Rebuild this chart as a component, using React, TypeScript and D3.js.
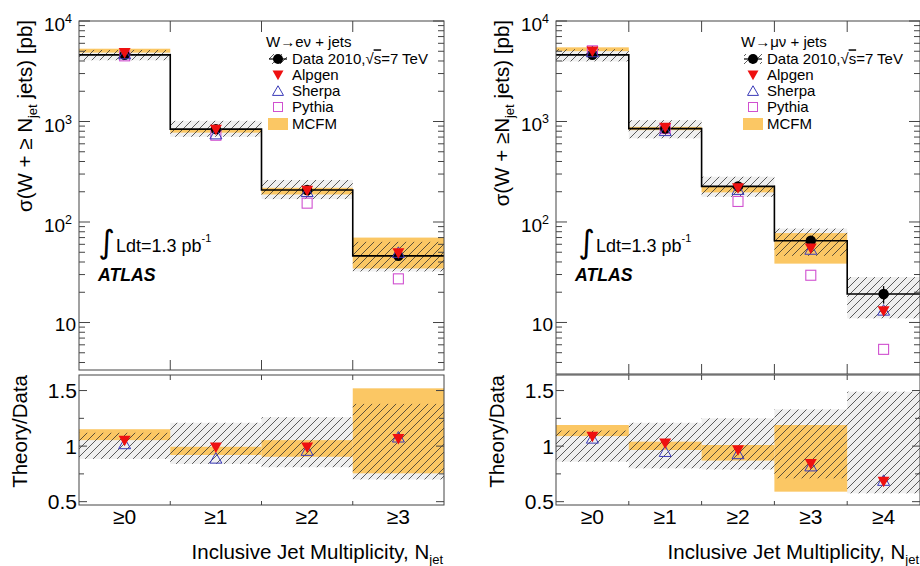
import React from "react";
import * as d3 from "d3";

// ---------------- DATA ----------------
const E_BINS = ["≥0", "≥1", "≥2", "≥3"];
const M_BINS = ["≥0", "≥1", "≥2", "≥3", "≥4"];

// Electron channel, cross sections [pb]
const E_DATA = [4600, 840, 208, 46];
const E_STAT = [40, 14, 6, 4];
const E_SYS_LO = [4070, 705, 169, 32.2];
const E_SYS_HI = [5150, 1016, 262, 63.5];
const E_MCFM_LO = [4850, 775, 188, 34.5];
const E_MCFM_HI = [5300, 835, 219, 70];
const E_ALPGEN = [4830, 832, 206, 49];
const E_SHERPA = [4700, 750, 200, 49.7];
const E_PYTHIA = [4500, 730, 154, 27.2];
// Electron channel, Theory/Data
const E_R_SYS_LO = [0.885, 0.84, 0.81, 0.7];
const E_R_SYS_HI = [1.12, 1.21, 1.26, 1.38];
const E_R_MCFM_LO = [1.054, 0.92, 0.904, 0.755];
const E_R_MCFM_HI = [1.152, 0.994, 1.054, 1.52];
const E_R_ALPGEN = [1.05, 0.99, 0.99, 1.065];
const E_R_SHERPA = [1.02, 0.89, 0.96, 1.08];

// Muon channel, cross sections [pb]
const M_DATA = [4600, 850, 226, 65, 19.2];
const M_STAT = [40, 14, 6, 4, 3.8];
const M_SYS_LO = [3960, 680, 178, 46, 11];
const M_SYS_HI = [5240, 1030, 282, 86, 28.3];
const M_MCFM_LO = [5010, 820, 197, 38.5];
const M_MCFM_HI = [5470, 884, 228, 77.5];
const M_ALPGEN = [4990, 871, 218, 54.6, 13];
const M_SHERPA = [4920, 808, 210, 53.3, 13.2];
const M_PYTHIA = [5050, 850, 160, 29.5, 5.4];
// Muon channel, Theory/Data
const M_R_SYS_LO = [0.86, 0.8, 0.79, 0.71, 0.575];
const M_R_SYS_HI = [1.14, 1.21, 1.25, 1.33, 1.49];
const M_R_MCFM_LO = [1.09, 0.965, 0.87, 0.59];
const M_R_MCFM_HI = [1.19, 1.04, 1.01, 1.19];
const M_R_ALPGEN = [1.085, 1.025, 0.965, 0.84, 0.68];
const M_R_SHERPA = [1.07, 0.95, 0.93, 0.82, 0.69];

const LOG_MAJOR = [10, 100, 1000, 10000];
const RATIO_MAJOR = [0.5, 1, 1.5];
const RATIO_MINOR = [0.75, 1.25];
const RATIO_DOMAIN = [0.47, 1.64];
const Y_MIN_E = 3.37;
const Y_MIN_M = 3.07;
const Y_MAX = 10000;

const LEGEND_ENTRIES = ["Data 2010,", "Alpgen", "Sherpa", "Pythia", "MCFM"];

// ---------------- STYLE ----------------
const FONT = "'Liberation Sans', Arial, Helvetica, sans-serif";
const ORANGE = "#fbc764";
const RED = "#ee1010";
const BLUE = "#3a3ab8";
const MAGENTA = "#d050d0";
const FRAME = "#444";
const HATCH_BG = "#efefef";

type PanelProps = {
  id: string;
  bins: string[];
  x0: number;
  x1: number;
  topBottom: number;
  ymin: number;
  data: number[];
  stat: number[];
  sysLo: number[];
  sysHi: number[];
  mcfmLo: number[];
  mcfmHi: number[];
  alpgen: number[];
  sherpa: number[];
  pythia: number[];
  rSysLo: number[];
  rSysHi: number[];
  rMcfmLo: number[];
  rMcfmHi: number[];
  rAlpgen: number[];
  rSherpa: number[];
  legendTitle: string;
  legX: number;
  yTitle: string;
  yTitleX: number;
  rTitleX: number;
  lumiX: number;
  atlasX: number;
};

const triDown = (cx: number, cy: number, s: number) =>
  `M${cx - s},${cy - s * 0.8}L${cx + s},${cy - s * 0.8}L${cx},${cy + s * 0.95}Z`;
const triUp = (cx: number, cy: number, s: number) =>
  `M${cx - s},${cy + s * 0.8}L${cx + s},${cy + s * 0.8}L${cx},${cy - s * 0.95}Z`;

function Panel(p: PanelProps) {
  const top = 21;
  const rTop = 375;
  const rBot = 505;
  const x = d3.scaleBand<string>().domain(p.bins).range([p.x0, p.x1]).paddingInner(0).paddingOuter(0);
  const y = d3.scaleLog().domain([p.ymin, Y_MAX]).range([p.topBottom, top]);
  const r = d3.scaleLinear().domain(RATIO_DOMAIN).range([rBot, rTop]);
  const bw = x.bandwidth();
  const edges = p.bins.map((b) => x(b) as number).concat([p.x1]);
  const innerEdges = edges.slice(1, -1);
  const minorLog = y.ticks().filter((t) => LOG_MAJOR.indexOf(t) < 0 && t >= p.ymin && t <= Y_MAX);
  const hatch = `url(#hatch-${p.id})`;
  const cx = (i: number) => (x(p.bins[i]) as number) + bw / 2;

  // step line
  const stepPts: [number, number][] = [];
  p.data.forEach((d, i) => {
    stepPts.push([x(p.bins[i]) as number, y(d)]);
    stepPts.push([(x(p.bins[i]) as number) + bw, y(d)]);
  });
  const stepPath = d3.line()(stepPts) as string;

  const legY = [59, 75, 91, 107, 124];

  return (
    <g fontFamily={FONT}>
      <defs>
        <pattern id={`hatch-${p.id}`} patternUnits="userSpaceOnUse" width={8} height={8}>
          <path d="M-2,2L2,-2M0,8L8,0M6,10L10,6" stroke="#2a2a2a" strokeWidth={0.75} />
        </pattern>
        <clipPath id={`clip-${p.id}`}>
          <rect x={p.x0} y={top} width={p.x1 - p.x0} height={p.topBottom - top} />
        </clipPath>
      </defs>

      {/* ---------- TOP PANEL ---------- */}
      <g clipPath={`url(#clip-${p.id})`}>
        {p.data.map((d, i) => (
          <rect key={`sb${i}`} x={x(p.bins[i])} width={bw} y={y(p.sysHi[i])} height={y(p.sysLo[i]) - y(p.sysHi[i])} fill={HATCH_BG} />
        ))}
        {p.mcfmLo.map((d, i) => (
          <rect key={`mc${i}`} x={x(p.bins[i])} width={bw} y={y(p.mcfmHi[i])} height={y(p.mcfmLo[i]) - y(p.mcfmHi[i])} fill={ORANGE} />
        ))}
        {p.data.map((d, i) => (
          <rect key={`sh${i}`} x={x(p.bins[i])} width={bw} y={y(p.sysHi[i])} height={y(p.sysLo[i]) - y(p.sysHi[i])} fill={hatch} />
        ))}
        <path d={stepPath} fill="none" stroke="#000" strokeWidth={1.6} />
        {p.pythia.map((d, i) => (
          <rect key={`py${i}`} x={cx(i) - 5} y={y(d) - 5} width={10} height={10} fill="none" stroke={MAGENTA} strokeWidth={1.1} />
        ))}
        {p.data.map((d, i) => (
          <g key={`da${i}`}>
            <line x1={cx(i)} x2={cx(i)} y1={y(d + p.stat[i])} y2={y(d - p.stat[i])} stroke="#000" strokeWidth={1.3} />
            <circle cx={cx(i)} cy={y(d)} r={5.2} fill="#000" />
          </g>
        ))}
        {p.sherpa.map((d, i) => (
          <path key={`se${i}`} d={triUp(cx(i), y(d), 6)} fill="none" stroke={BLUE} strokeWidth={1} />
        ))}
        {p.alpgen.map((d, i) => (
          <path key={`al${i}`} d={triDown(cx(i), y(d), 6)} fill={RED} />
        ))}
      </g>

      {/* frame */}
      <rect x={p.x0} y={top} width={p.x1 - p.x0} height={p.topBottom - top} fill="none" stroke={FRAME} strokeWidth={1} />
      {LOG_MAJOR.map((t) => (
        <g key={`lm${t}`}>
          <line x1={p.x0} x2={p.x0 + 11} y1={y(t)} y2={y(t)} stroke={FRAME} />
          <line x1={p.x1} x2={p.x1 - 11} y1={y(t)} y2={y(t)} stroke={FRAME} />
        </g>
      ))}
      {minorLog.map((t, i) => (
        <g key={`ln${i}`}>
          <line x1={p.x0} x2={p.x0 + 6} y1={y(t)} y2={y(t)} stroke={FRAME} />
          <line x1={p.x1} x2={p.x1 - 6} y1={y(t)} y2={y(t)} stroke={FRAME} />
        </g>
      ))}
      {innerEdges.map((e, i) => (
        <g key={`te${i}`}>
          <line x1={e} x2={e} y1={top} y2={top + 11} stroke={FRAME} />
          <line x1={e} x2={e} y1={p.topBottom} y2={p.topBottom - 10} stroke={FRAME} />
        </g>
      ))}
      {LOG_MAJOR.map((t) => {
        const exp = Math.round(Math.log10(t));
        return exp === 1 ? (
          <text key={`tl${t}`} x={p.x0 - 3} y={y(t) + 8.5} fontSize={19} textAnchor="end">10</text>
        ) : (
          <text key={`tl${t}`} x={p.x0 - 7} y={y(t) + 10} fontSize={19} textAnchor="end">
            10<tspan fontSize={12.5} dy={-8}>{exp}</tspan>
          </text>
        );
      })}

      {/* y title */}
      <text transform={`translate(${p.yTitleX},20) rotate(-90)`} fontSize={20.5} textAnchor="end">
        {p.yTitle}
        <tspan fontSize={13} dy={5}>jet</tspan>
        <tspan dy={-5}> jets) [pb]</tspan>
      </text>

      {/* legend */}
      <g fontSize={15}>
        <text x={p.legX - 12} y={47}>{p.legendTitle}</text>
        <rect x={p.legX - 9} y={legY[0] - 5} width={18} height={10} fill={hatch} />
        <line x1={p.legX - 9} x2={p.legX + 9} y1={legY[0]} y2={legY[0]} stroke="#000" strokeWidth={1.2} />
        <circle cx={p.legX} cy={legY[0]} r={5} fill="#000" />
        <path d={triDown(p.legX, legY[1], 5.5)} fill={RED} />
        <path d={triUp(p.legX, legY[2], 5.5)} fill="none" stroke={BLUE} strokeWidth={1} />
        <rect x={p.legX - 4.5} y={legY[3] - 4.5} width={9} height={9} fill="none" stroke={MAGENTA} strokeWidth={1} />
        <rect x={p.legX - 10} y={legY[4] - 6} width={20} height={12} fill={ORANGE} />
        <text x={p.legX + 14} y={legY[0] + 5.3}>
          {LEGEND_ENTRIES[0]}√<tspan textDecoration="overline">s</tspan>=7 TeV
        </text>
        {LEGEND_ENTRIES.slice(1).map((t, i) => (
          <text key={`le${i}`} x={p.legX + 14} y={legY[i + 1] + 5.3}>{t}</text>
        ))}
      </g>

      {/* lumi + ATLAS */}
      <text x={p.lumiX - 1} y={253} fontSize={32} fontFamily="'DejaVu Sans'" textAnchor="end">∫</text>
      <text x={p.lumiX} y={252} fontSize={18}>
        Ldt=1.3 pb<tspan fontSize={11} dy={-10}>-1</tspan>
      </text>
      <text x={p.atlasX} y={281} fontSize={17.7} fontWeight="bold" fontStyle="italic">ATLAS</text>

      {/* ---------- RATIO PANEL ---------- */}
      {p.rSysLo.map((d, i) => (
        <rect key={`rsb${i}`} x={x(p.bins[i])} width={bw} y={r(p.rSysHi[i])} height={r(p.rSysLo[i]) - r(p.rSysHi[i])} fill={HATCH_BG} />
      ))}
      {p.rMcfmLo.map((d, i) => (
        <rect key={`rmc${i}`} x={x(p.bins[i])} width={bw} y={r(p.rMcfmHi[i])} height={r(p.rMcfmLo[i]) - r(p.rMcfmHi[i])} fill={ORANGE} />
      ))}
      {p.rSysLo.map((d, i) => (
        <rect key={`rsh${i}`} x={x(p.bins[i])} width={bw} y={r(p.rSysHi[i])} height={r(p.rSysLo[i]) - r(p.rSysHi[i])} fill={hatch} />
      ))}
      {p.rSherpa.map((d, i) => (
        <path key={`rse${i}`} d={triUp(cx(i), r(d), 6)} fill="none" stroke={BLUE} strokeWidth={1} />
      ))}
      {p.rAlpgen.map((d, i) => (
        <path key={`ral${i}`} d={triDown(cx(i), r(d), 6)} fill={RED} />
      ))}
      <rect x={p.x0} y={rTop} width={p.x1 - p.x0} height={rBot - rTop} fill="none" stroke={FRAME} strokeWidth={1} />
      {RATIO_MAJOR.map((t) => (
        <g key={`rm${t}`}>
          <line x1={p.x0} x2={p.x0 + 8} y1={r(t)} y2={r(t)} stroke={FRAME} />
          <line x1={p.x1} x2={p.x1 - 8} y1={r(t)} y2={r(t)} stroke={FRAME} />
          <text x={p.x0 - 2} y={r(t) + 7.5} fontSize={21} textAnchor="end">{String(t)}</text>
        </g>
      ))}
      {RATIO_MINOR.map((t) => (
        <g key={`rn${t}`}>
          <line x1={p.x0} x2={p.x0 + 5} y1={r(t)} y2={r(t)} stroke={FRAME} />
          <line x1={p.x1} x2={p.x1 - 5} y1={r(t)} y2={r(t)} stroke={FRAME} />
        </g>
      ))}
      {innerEdges.map((e, i) => (
        <g key={`re${i}`}>
          <line x1={e} x2={e} y1={rTop} y2={rTop + 5} stroke={FRAME} />
          <line x1={e} x2={e} y1={rBot} y2={rBot - 4} stroke={FRAME} />
        </g>
      ))}
      {p.bins.map((b, i) => (
        <text key={`xl${i}`} x={cx(i)} y={524} fontSize={21} textAnchor="middle">{b}</text>
      ))}
      <text transform={`translate(${p.rTitleX},375) rotate(-90)`} fontSize={20.5} textAnchor="end">Theory/Data</text>
      <text x={p.x1 - 1} y={559} fontSize={20.5} textAnchor="end">
        Inclusive Jet Multiplicity, N<tspan fontSize={13} dy={5}>jet</tspan>
      </text>
    </g>
  );
}

export default function App() {
  return (
    <svg width={920} height={566} style={{ position: "absolute", left: 0, top: 0, background: "#fff" }}>
      <rect width={920} height={566} fill="#fff" />
      <Panel
        id="e" bins={E_BINS} x0={79} x1={444} topBottom={370} ymin={Y_MIN_E}
        data={E_DATA} stat={E_STAT} sysLo={E_SYS_LO} sysHi={E_SYS_HI}
        mcfmLo={E_MCFM_LO} mcfmHi={E_MCFM_HI} alpgen={E_ALPGEN} sherpa={E_SHERPA} pythia={E_PYTHIA}
        rSysLo={E_R_SYS_LO} rSysHi={E_R_SYS_HI} rMcfmLo={E_R_MCFM_LO} rMcfmHi={E_R_MCFM_HI}
        rAlpgen={E_R_ALPGEN} rSherpa={E_R_SHERPA}
        legendTitle="W→eν + jets" legX={278} yTitle="σ(W + ≥ N" yTitleX={32} rTitleX={27}
        lumiX={116} atlasX={98}
      />
      <Panel
        id="m" bins={M_BINS} x0={556} x1={920} topBottom={374} ymin={Y_MIN_M}
        data={M_DATA} stat={M_STAT} sysLo={M_SYS_LO} sysHi={M_SYS_HI}
        mcfmLo={M_MCFM_LO} mcfmHi={M_MCFM_HI} alpgen={M_ALPGEN} sherpa={M_SHERPA} pythia={M_PYTHIA}
        rSysLo={M_R_SYS_LO} rSysHi={M_R_SYS_HI} rMcfmLo={M_R_MCFM_LO} rMcfmHi={M_R_MCFM_HI}
        rAlpgen={M_R_ALPGEN} rSherpa={M_R_SHERPA}
        legendTitle="W→μν + jets" legX={753} yTitle="σ(W + ≥N" yTitleX={509} rTitleX={504}
        lumiX={596} atlasX={575}
      />
    </svg>
  );
}
